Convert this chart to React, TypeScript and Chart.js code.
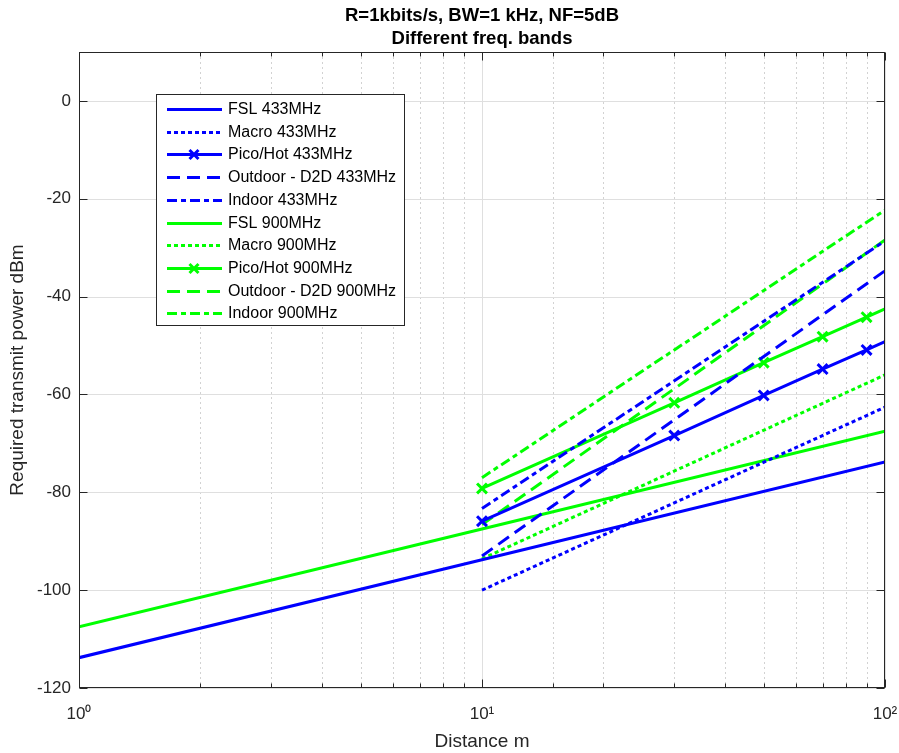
import React, { useEffect, useRef } from 'react';
import { Chart, registerables } from 'chart.js';

Chart.register(...registerables);

const FONT = "'Liberation Sans', Arial, Helvetica, sans-serif";
const BLUE = '#0000ff';
const GREEN = '#00ff00';
const AXIS_COLOR = '#262626';

// distances (m)
const distFSL = [1, 10, 100];
const distModel = [10, 100];
const distPico = [10, 30, 50, 70, 90, 100];
const picoMarkerShown = [true, true, true, true, true, false];

// 433 MHz (dBm)
const fsl433 = [-113.8, -93.8, -73.8];
const macro433 = [-100.0, -62.6];
const pico433 = [-85.9, -68.4, -60.2, -54.8, -50.9, -49.2];
const outdoor433 = [-93.0, -34.7];
const indoor433 = [-83.3, -28.6];

// 900 MHz (dBm)
const fsl900 = [-107.5, -87.5, -67.5];
const macro900 = [-93.6, -56.0];
const pico900 = [-79.2, -61.7, -53.5, -48.2, -44.2, -42.5];
const outdoor900 = [-86.6, -28.4];
const indoor900 = [-77.0, -22.3];

const seriesLabels = [
  'FSL 433MHz',
  'Macro 433MHz',
  'Pico/Hot 433MHz',
  'Outdoor - D2D 433MHz',
  'Indoor 433MHz',
  'FSL 900MHz',
  'Macro 900MHz',
  'Pico/Hot 900MHz',
  'Outdoor - D2D 900MHz',
  'Indoor 900MHz',
];

const xTickValues = [1, 10, 100];
const xTickLabels = ['10\u2070', '10\u00B9', '10\u00B2'];
const yMin = -120;
const yMax = 10;
const yStep = 20;

const titleLines = ['R=1kbits/s, BW=1 kHz, NF=5dB', 'Different freq. bands'];
const xAxisTitle = 'Distance m';
const yAxisTitle = 'Required transmit power dBm';

const DASH: Record<string, number[]> = {
  solid: [],
  dotted: [4, 3],
  dashed: [13, 7],
  dashdot: [10, 4, 5, 4],
};

type Series = {
  label: string;
  xs: number[];
  ys: number[];
  color: string;
  style: string;
  markers?: boolean[];
};

const series: Series[] = [
  { label: seriesLabels[0], xs: distFSL, ys: fsl433, color: BLUE, style: 'solid' },
  { label: seriesLabels[1], xs: distModel, ys: macro433, color: BLUE, style: 'dotted' },
  { label: seriesLabels[2], xs: distPico, ys: pico433, color: BLUE, style: 'solid', markers: picoMarkerShown },
  { label: seriesLabels[3], xs: distModel, ys: outdoor433, color: BLUE, style: 'dashed' },
  { label: seriesLabels[4], xs: distModel, ys: indoor433, color: BLUE, style: 'dashdot' },
  { label: seriesLabels[5], xs: distFSL, ys: fsl900, color: GREEN, style: 'solid' },
  { label: seriesLabels[6], xs: distModel, ys: macro900, color: GREEN, style: 'dotted' },
  { label: seriesLabels[7], xs: distPico, ys: pico900, color: GREEN, style: 'solid', markers: picoMarkerShown },
  { label: seriesLabels[8], xs: distModel, ys: outdoor900, color: GREEN, style: 'dashed' },
  { label: seriesLabels[9], xs: distModel, ys: indoor900, color: GREEN, style: 'dashdot' },
];

const isMajor = (v: number) => {
  const l = Math.log10(v);
  return Math.abs(l - Math.round(l)) < 1e-9;
};

const gridPlugin = {
  id: 'matlabGrid',
  beforeDatasetsDraw(chart: any) {
    const { ctx, chartArea: ca } = chart;
    const xs = chart.scales.x;
    const ys = chart.scales.y;
    ctx.save();
    ctx.lineWidth = 1;
    xs.ticks.forEach((t: any) => {
      const px = Math.round(xs.getPixelForValue(t.value)) + 0.5;
      if (isMajor(t.value)) {
        ctx.strokeStyle = '#dfdfdf';
        ctx.setLineDash([]);
      } else {
        ctx.strokeStyle = '#d2d2d2';
        ctx.setLineDash([2, 3]);
      }
      ctx.beginPath();
      ctx.moveTo(px, ca.top);
      ctx.lineTo(px, ca.bottom);
      ctx.stroke();
    });
    ctx.setLineDash([]);
    ctx.strokeStyle = '#dfdfdf';
    ys.ticks.forEach((t: any) => {
      const py = Math.round(ys.getPixelForValue(t.value)) + 0.5;
      ctx.beginPath();
      ctx.moveTo(ca.left, py);
      ctx.lineTo(ca.right, py);
      ctx.stroke();
    });
    ctx.restore();
  },
  afterDatasetsDraw(chart: any) {
    const { ctx, chartArea: ca } = chart;
    const xs = chart.scales.x;
    const ys = chart.scales.y;
    ctx.save();
    ctx.strokeStyle = AXIS_COLOR;
    ctx.lineWidth = 1;
    ctx.setLineDash([]);
    const L = Math.round(ca.left) + 0.5;
    const R = Math.round(ca.right) - 0.5;
    const T = Math.round(ca.top) + 0.5;
    const B = Math.round(ca.bottom) - 0.5;
    ctx.beginPath();
    xs.ticks.forEach((t: any) => {
      const px = Math.round(xs.getPixelForValue(t.value)) + 0.5;
      const len = isMajor(t.value) ? 8 : 4;
      ctx.moveTo(px, B);
      ctx.lineTo(px, B - len);
      ctx.moveTo(px, T);
      ctx.lineTo(px, T + len);
    });
    ys.ticks.forEach((t: any) => {
      const py = Math.round(ys.getPixelForValue(t.value)) + 0.5;
      ctx.moveTo(L, py);
      ctx.lineTo(L + 8, py);
      ctx.moveTo(R, py);
      ctx.lineTo(R - 8, py);
    });
    ctx.stroke();
    ctx.strokeRect(L, T, R - L, B - T);
    ctx.restore();
  },
};

const legendPlugin = {
  id: 'matlabLegend',
  afterDraw(chart: any) {
    const { ctx, chartArea: ca } = chart;
    const x0 = Math.round(ca.left) + 77;
    const y0 = Math.round(ca.top) + 42;
    const w = 248;
    const h = 231;
    ctx.save();
    ctx.fillStyle = '#ffffff';
    ctx.fillRect(x0, y0, w, h);
    ctx.strokeStyle = AXIS_COLOR;
    ctx.lineWidth = 1;
    ctx.setLineDash([]);
    ctx.strokeRect(x0 + 0.5, y0 + 0.5, w, h);
    ctx.font = `16px ${FONT}`;
    ctx.textBaseline = 'middle';
    ctx.textAlign = 'left';
    series.forEach((s, i) => {
      const cy = Math.round(y0 + 15 + i * 22.7) + 0.5;
      ctx.strokeStyle = s.color;
      ctx.lineWidth = 3;
      ctx.lineCap = 'butt';
      ctx.setLineDash(DASH[s.style]);
      ctx.beginPath();
      ctx.moveTo(x0 + 11, cy);
      ctx.lineTo(x0 + 66, cy);
      ctx.stroke();
      if (s.markers) {
        ctx.setLineDash([]);
        ctx.lineWidth = 3;
        const mx = x0 + 38;
        const r = 4.5;
        ctx.beginPath();
        ctx.moveTo(mx - r, cy - r);
        ctx.lineTo(mx + r, cy + r);
        ctx.moveTo(mx - r, cy + r);
        ctx.lineTo(mx + r, cy - r);
        ctx.stroke();
      }
      ctx.fillStyle = '#000000';
      ctx.fillText(s.label, x0 + 72, cy);
    });
    ctx.restore();
  },
};

export default function App() {
  const canvasRef = useRef<HTMLCanvasElement | null>(null);

  useEffect(() => {
    const canvas = canvasRef.current;
    if (!canvas) return;
    const datasets = series.map((s) => ({
      label: s.label,
      data: s.xs.map((x, i) => ({ x, y: s.ys[i] })),
      borderColor: s.color,
      backgroundColor: s.color,
      borderWidth: 3,
      borderDash: DASH[s.style],
      borderCapStyle: 'butt' as const,
      fill: false,
      tension: 0,
      pointStyle: 'crossRot' as const,
      pointRadius: s.markers ? s.markers.map((m) => (m ? 7 : 0)) : 0,
      pointHoverRadius: 0,
      pointBorderWidth: 3,
      pointBorderColor: s.color,
      pointBackgroundColor: s.color,
    }));

    const chart = new Chart(canvas, {
      type: 'line',
      data: { datasets },
      options: {
        responsive: false,
        animation: false,
        devicePixelRatio: 1,
        layout: { padding: { left: 0, right: 14, top: 0, bottom: 0 } },
        plugins: {
          legend: { display: false },
          tooltip: { enabled: false },
          title: {
            display: true,
            fullSize: false,
            text: titleLines,
            color: '#000000',
            font: { family: FONT, size: 18.5, weight: 'bold', lineHeight: 1.25 },
            padding: { top: 4, bottom: 1.75 },
          },
        },
        scales: {
          x: {
            type: 'logarithmic',
            min: 1,
            max: 100,
            grid: { display: false, drawTicks: false },
            border: { display: false },
            ticks: {
              autoSkip: false,
              maxRotation: 0,
              minRotation: 0,
              padding: 16,
              color: AXIS_COLOR,
              font: { family: FONT, size: 17 },
              callback: (v: any) => {
                const i = xTickValues.findIndex((t) => Math.abs(t - Number(v)) < 1e-6);
                return i >= 0 ? xTickLabels[i] : '';
              },
            },
            title: {
              display: true,
              text: xAxisTitle,
              color: AXIS_COLOR,
              font: { family: FONT, size: 19 },
              padding: { top: 0, bottom: 0 },
            },
            afterFit: (s: any) => {
              s.height = 65;
              s.paddingLeft = 0;
              s.paddingRight = 0;
            },
          },
          y: {
            type: 'linear',
            min: yMin,
            max: yMax,
            grid: { display: false, drawTicks: false },
            border: { display: false },
            ticks: {
              stepSize: yStep,
              includeBounds: false,
              padding: 8,
              color: AXIS_COLOR,
              font: { family: FONT, size: 17 },
              callback: (v: any) => String(v),
            },
            title: {
              display: true,
              text: yAxisTitle,
              color: AXIS_COLOR,
              font: { family: FONT, size: 19 },
              padding: { top: 6, bottom: 0 },
            },
            afterFit: (s: any) => {
              s.width = 79;
              s.paddingTop = 0;
              s.paddingBottom = 0;
            },
          },
        },
      } as any,
      plugins: [gridPlugin, legendPlugin],
    });

    return () => chart.destroy();
  }, []);

  return (
    <div style={{ position: 'absolute', left: 0, top: 0, width: 899, height: 753, background: '#ffffff' }}>
      <canvas ref={canvasRef} width={899} height={753} style={{ display: 'block', width: 899, height: 753 }} />
    </div>
  );
}
